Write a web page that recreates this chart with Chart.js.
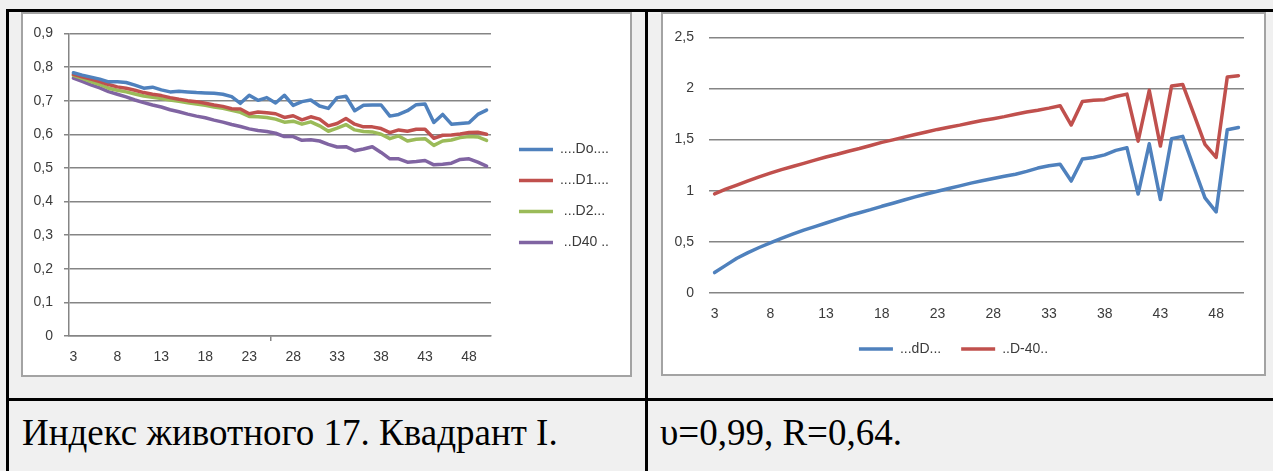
<!DOCTYPE html>
<html>
<head>
<meta charset="utf-8">
<script src="https://cdn.jsdelivr.net/npm/chart.js"></script>
<style>
html, body { margin: 0; padding: 0; }
body { width: 1273px; height: 471px; background: #f0f0f0; position: relative; overflow: hidden; }
.rule { position: absolute; background: #000; }
.box { position: absolute; background: #fff; border: 2px solid #a3a3a3; box-sizing: border-box; }
canvas { position: absolute; }
.caption { position: absolute; font-family: 'Liberation Serif', Tinos, 'Times New Roman', 'DejaVu Serif', serif; font-size: 37px; line-height: 40px; color: #000; white-space: nowrap; }
</style>
</head>
<body>
<div class="rule" style="left:6px;top:9px;width:1267px;height:3px"></div>
<div class="rule" style="left:6px;top:9px;width:3px;height:462px"></div>
<div class="rule" style="left:645px;top:9px;width:3px;height:462px"></div>
<div class="rule" style="left:6px;top:398px;width:1267px;height:3px"></div>

<div class="box" style="left:21px;top:12px;width:611px;height:365px"></div>
<canvas id="left" width="606" height="361" style="left:23px;top:14px"></canvas>

<div class="box" style="left:661px;top:12px;width:605px;height:364px"></div>
<canvas id="right" width="600" height="360" style="left:663px;top:14px"></canvas>

<div class="caption" style="left:22px;top:413px">Индекс животного 17. Квадрант I.</div>
<div class="caption" style="left:660px;top:413px">υ=0,99, R=0,64.</div>

<script>
// категории (ось X)
const categories = [3, 4, 5, 6, 7, 8, 9, 10, 11, 12, 13, 14, 15, 16, 17, 18, 19, 20, 21, 22, 23, 24, 25, 26,
  27, 28, 29, 30, 31, 32, 33, 34, 35, 36, 37, 38, 39, 40, 41, 42, 43, 44, 45, 46, 47, 48, 49, 50];
const xTickLabels = ['3', '8', '13', '18', '23', '28', '33', '38', '43', '48'];

// левый график
const seriesDo = [0.783, 0.776, 0.770, 0.764, 0.756, 0.756, 0.754, 0.746, 0.737, 0.740, 0.732, 0.726,
  0.728, 0.726, 0.724, 0.723, 0.722, 0.719, 0.712, 0.692, 0.716, 0.701, 0.709, 0.693,
  0.716, 0.686, 0.697, 0.702, 0.684, 0.677, 0.709, 0.713, 0.670, 0.686, 0.687, 0.687,
  0.654, 0.659, 0.670, 0.688, 0.690, 0.635, 0.659, 0.630, 0.632, 0.634, 0.659, 0.672];
const seriesD1 = [0.778, 0.771, 0.764, 0.757, 0.748, 0.741, 0.737, 0.731, 0.724, 0.719, 0.715, 0.709,
  0.704, 0.700, 0.697, 0.692, 0.687, 0.683, 0.676, 0.675, 0.661, 0.666, 0.664, 0.661,
  0.650, 0.655, 0.643, 0.652, 0.645, 0.625, 0.632, 0.647, 0.630, 0.622, 0.622, 0.617,
  0.605, 0.613, 0.609, 0.615, 0.615, 0.588, 0.597, 0.598, 0.601, 0.605, 0.606, 0.600];
const seriesD2 = [0.775, 0.766, 0.757, 0.748, 0.737, 0.731, 0.726, 0.720, 0.714, 0.710, 0.706, 0.702,
  0.698, 0.694, 0.690, 0.686, 0.681, 0.677, 0.671, 0.665, 0.653, 0.652, 0.650, 0.645,
  0.636, 0.639, 0.630, 0.637, 0.625, 0.609, 0.618, 0.629, 0.613, 0.608, 0.607, 0.600,
  0.587, 0.595, 0.580, 0.585, 0.587, 0.567, 0.580, 0.583, 0.590, 0.593, 0.592, 0.582];
const seriesD40 = [0.767, 0.757, 0.747, 0.738, 0.727, 0.719, 0.711, 0.702, 0.694, 0.687, 0.681, 0.673,
  0.667, 0.660, 0.654, 0.649, 0.642, 0.636, 0.629, 0.623, 0.616, 0.611, 0.608, 0.603,
  0.593, 0.593, 0.582, 0.584, 0.580, 0.570, 0.562, 0.563, 0.551, 0.556, 0.563, 0.546,
  0.527, 0.527, 0.517, 0.519, 0.522, 0.509, 0.511, 0.514, 0.525, 0.527, 0.517, 0.505];

// правый график
const seriesdD = [0.200, 0.270, 0.340, 0.395, 0.445, 0.490, 0.535, 0.575, 0.615, 0.650, 0.685, 0.720,
  0.755, 0.785, 0.815, 0.848, 0.878, 0.910, 0.940, 0.968, 0.995, 1.022, 1.048, 1.075,
  1.098, 1.120, 1.142, 1.162, 1.190, 1.222, 1.245, 1.260, 1.095, 1.310, 1.326, 1.351,
  1.395, 1.420, 0.968, 1.459, 0.914, 1.510, 1.532, 1.230, 0.930, 0.793, 1.596, 1.618];
const seriesDm40 = [0.970, 1.015, 1.056, 1.097, 1.136, 1.172, 1.207, 1.237, 1.268, 1.300, 1.330, 1.357,
  1.387, 1.413, 1.443, 1.473, 1.498, 1.525, 1.550, 1.575, 1.600, 1.622, 1.642, 1.665,
  1.687, 1.705, 1.725, 1.748, 1.770, 1.787, 1.808, 1.832, 1.643, 1.872, 1.885, 1.891,
  1.922, 1.945, 1.485, 1.983, 1.437, 2.024, 2.040, 1.750, 1.453, 1.326, 2.113, 2.126];

const gridColor = '#858585';
const textColor = '#3b3b3b';
Chart.defaults.font.family = "'Liberation Sans', Arial, sans-serif";
Chart.defaults.font.size = 14;
Chart.defaults.color = textColor;

function commaNum(v) {
  return v === 0 ? '0' : String(+v.toFixed(1)).replace('.', ',');
}
function xLabel(value, index) {
  const lab = String(categories[index]);
  return xTickLabels.includes(lab) ? lab : null;
}

// сдвиг легенды после раскладки
const legendShift = {
  id: 'legendShift',
  afterLayout(chart, args, opts) {
    const l = chart.legend;
    const dx = opts.dx || 0, dy = opts.dy || 0;
    l.left += dx; l.right += dx;
    l.top += dy; l.bottom += dy;
  }
};

function lineSet(label, data, color) {
  return {
    label: label,
    data: data,
    borderColor: color,
    backgroundColor: color,
    borderWidth: 3.5,
    pointRadius: 0,
    tension: 0,
    borderJoinStyle: 'round',
    borderCapStyle: 'round'
  };
}

new Chart(document.getElementById('left'), {
  type: 'line',
  data: {
    labels: categories,
    datasets: [
      lineSet('....Do....', seriesDo, '#4F81BD'),
      lineSet('....D1....', seriesD1, '#C0504D'),
      lineSet(' ...D2...', seriesD2, '#9BBB59'),
      lineSet(' ..D40 ..', seriesD40, '#8064A2')
    ]
  },
  options: {
    responsive: false,
    animation: false,
    events: [],
    layout: { padding: { left: 0, top: 17, right: 21, bottom: 0 } },
    scales: {
      x: {
        offset: true,
        grid: {
          offset: true,
          drawOnChartArea: false,
          tickLength: 5,
          lineWidth: 1.5,
          tickColor: c => (xTickLabels.includes(String(categories[c.index])) ? gridColor : 'rgba(0,0,0,0)')
        },
        border: { color: gridColor, width: 1.5 },
        ticks: { autoSkip: false, maxRotation: 0, padding: 8, callback: xLabel },
        afterFit: s => { s.height = 39; }
      },
      y: {
        min: 0,
        max: 0.9,
        grid: { color: gridColor, tickLength: 5, lineWidth: 1.5 },
        border: { color: gridColor, width: 1.5 },
        ticks: { stepSize: 0.1, padding: 11, callback: commaNum },
        afterFit: s => { s.width = 46; }
      }
    },
    plugins: {
      legend: {
        position: 'right',
        labels: { usePointStyle: true, pointStyle: 'line', pointStyleWidth: 34, boxHeight: 4, padding: 17, color: textColor }
      },
      tooltip: { enabled: false },
      legendShift: { dx: 11, dy: -7 }
    }
  },
  plugins: [legendShift]
});

new Chart(document.getElementById('right'), {
  type: 'line',
  data: {
    labels: categories,
    datasets: [
      lineSet('...dD...', seriesdD, '#4F81BD'),
      lineSet('..D-40..', seriesDm40, '#C0504D')
    ]
  },
  options: {
    responsive: false,
    animation: false,
    events: [],
    layout: { padding: { left: 0, top: 15, right: 19, bottom: 8 } },
    scales: {
      x: {
        offset: true,
        grid: { display: false, drawTicks: false },
        border: { display: false },
        ticks: { autoSkip: false, maxRotation: 0, padding: 13, callback: xLabel },
        afterFit: s => { s.height = 29; }
      },
      y: {
        min: 0,
        max: 2.5,
        grid: { color: gridColor, drawTicks: false, lineWidth: 1.5 },
        border: { display: false },
        ticks: { stepSize: 0.5, padding: 15, callback: commaNum },
        afterFit: s => { s.width = 46; }
      }
    },
    plugins: {
      legend: {
        position: 'bottom',
        labels: { usePointStyle: true, pointStyle: 'line', pointStyleWidth: 34, boxHeight: 4, padding: 20, color: textColor }
      },
      tooltip: { enabled: false }
    }
  }
});
</script>
</body>
</html>
